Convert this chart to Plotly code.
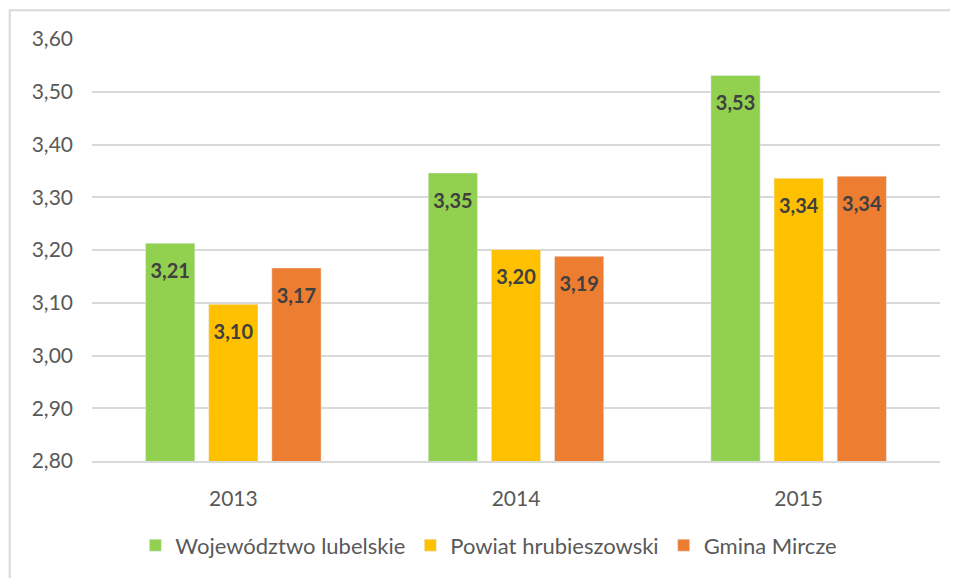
import plotly.graph_objects as go

years = ["2013", "2014", "2015"]
wojewodztwo = [3.213, 3.346, 3.531]
powiat = [3.097, 3.201, 3.336]
gmina = [3.166, 3.188, 3.340]

series_names = ["Województwo lubelskie", "Powiat hrubieszowski", "Gmina Mircze"]
series_values = [wojewodztwo, powiat, gmina]
colors = ["#92d050", "#ffc000", "#ed7d31"]

y_ticks = [2.8, 2.9, 3.0, 3.1, 3.2, 3.3, 3.4, 3.5, 3.6]

FONT = "Lato"

fig = go.Figure()

for i, (name, vals, col) in enumerate(zip(series_names, series_values, colors)):
    fig.add_trace(go.Bar(
        x=years, y=vals, name=name, marker_color=col,
        offsetgroup=str(i),
    ))

# data labels, grouped the same way as the bars
for i, (name, vals) in enumerate(zip(series_names, series_values)):
    fig.add_trace(go.Scatter(
        x=years, y=vals, mode="markers+text", showlegend=False,
        offsetgroup=str(i), marker=dict(size=30, opacity=0),
        text=[f"{v:.2f}".replace(".", ",") for v in vals],
        textposition="bottom center",
        textfont=dict(family=FONT, size=20, color="#404040", weight="bold"),
        hoverinfo="skip",
    ))

# the page adds an 8px body margin, so the figure is 8px smaller
fig.update_layout(
    width=950, height=570,
    margin=dict(l=84, r=18, t=31, b=107),
    paper_bgcolor="white", plot_bgcolor="white",
    barmode="group", bargap=0.33, bargroupgap=0.22,
    scattermode="group", scattergap=0.33,
    separators=", ",
    font=dict(family=FONT, size=21, color="#595959"),
    legend=dict(
        orientation="h", x=0.468, xanchor="center", y=-0.2, yanchor="middle",
        font=dict(size=22, color="#595959"), itemwidth=30,
    ),
    shapes=[dict(
        type="rect", xref="paper", yref="paper",
        x0=-0.097, x1=1.04, y0=-0.3, y1=1.068,
        line=dict(color="#d9d9d9", width=2), layer="below",
    )],
)

fig.update_yaxes(
    range=[2.8, 3.6], tickvals=y_ticks, tickformat=".2f",
    showgrid=True, gridcolor="#d9d9d9", gridwidth=1.5,
    zeroline=False, showline=False, ticks="", ticklen=0,
    ticklabelstandoff=18,
)
fig.update_xaxes(
    showline=True, linecolor="#d9d9d9", linewidth=1.5,
    ticks="", ticklabelstandoff=18,
)

fig.write_html("out.html")
